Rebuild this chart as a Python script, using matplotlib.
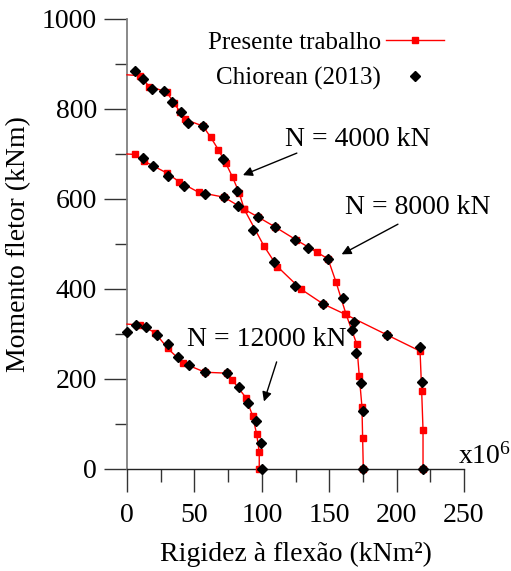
import matplotlib
matplotlib.use("Agg")
import matplotlib.pyplot as plt
from matplotlib.lines import Line2D

plt.rcParams['font.family'] = ['Liberation Serif', 'DejaVu Serif']
plt.rcParams['mathtext.fontset'] = 'custom'
plt.rcParams['mathtext.rm'] = 'Liberation Serif'
plt.rcParams['mathtext.it'] = 'Liberation Serif:italic'

# ---- data: Presente trabalho (red) ----
n4000_x = [0, 9.6, 16.5, 29.4, 34.9, 39.3, 43.0, 56.4, 62.1, 67.7, 73.4, 78.4, 83.3, 87.0,
           101.5, 111.5, 128.9, 145.4, 161.7, 192.9, 217.4, 218.6, 219.6, 219.6]
n4000_y = [876, 874, 850, 838, 813, 794, 777, 762, 737, 710, 679, 648, 613, 577,
           496, 450, 400, 367, 344, 298, 262, 173, 87, 0]

n8000_x = [0, 5.9, 12.8, 29.4, 38.9, 53.1, 72.0, 87.1, 97.2, 109.8, 125.0, 140.7, 149.1,
           155.0, 162.5, 170.4, 172.3, 174.3, 174.8, 175.3]
n8000_y = [700, 699, 684, 658, 638, 615, 604, 577, 560, 538, 510, 482, 467,
           416, 344, 278, 207, 138, 69, 0]

n12000_x = [0, 10.0, 20.8, 30.2, 41.8, 57.9, 74.0, 78.1, 88.3, 93.2, 96.2, 98.1, 98.1]
n12000_y = [322, 320, 303, 268, 235, 215, 213, 198, 158, 118, 77, 38, 0]

# ---- data: Chiorean (2013) (black diamonds) ----
c4000_x = [5.9, 11.9, 18.5, 27.4, 33.4, 40.0, 45.2, 56.4, 71.2, 81.6, 93.5, 109.0, 124.6,
           145.4, 168.4, 192.9, 217.4, 218.6, 219.6]
c4000_y = [884, 867, 844, 840, 816, 793, 769, 762, 689, 618, 531, 460, 407,
           367, 327, 298, 271, 193, 0]

c8000_x = [11.9, 19.3, 30.4, 42.3, 57.9, 72.0, 82.3, 97.2, 109.8, 124.6, 134.3, 149.1,
           160.2, 166.7, 169.7, 173.4, 175.3, 175.3]
c8000_y = [691, 673, 651, 629, 611, 604, 584, 560, 538, 509, 491, 467,
           380, 309, 258, 191, 129, 0]

c12000_x = [0, 6.7, 13.9, 22.5, 30.2, 38.1, 46.2, 57.9, 74.0, 83.1, 89.5, 95.5, 99.4, 100.4]
c12000_y = [304, 320, 316, 298, 277, 250, 231, 215, 213, 183, 147, 107, 58, 0]

x_ticks = [0, 50, 100, 150, 200, 250]
y_ticks = [0, 200, 400, 600, 800, 1000]

fig = plt.figure(figsize=(5.11, 5.71), dpi=100)
ax = fig.add_axes([127/511, 1-469/571, (464-127)/511, (469-19)/571])

red_kw = dict(color='#ff0000', lw=1.0, marker='s', ms=4.6, mec='#ff0000', mfc='#ff0000',
              clip_on=False, zorder=3)
blk_kw = dict(ls='none', marker='D', ms=5.0, color='black', clip_on=False, zorder=4)

for xs, ys in [(n4000_x, n4000_y), (n8000_x, n8000_y), (n12000_x, n12000_y)]:
    ax.plot(xs, ys, markevery=list(range(1, len(xs))), **red_kw)
for xs, ys in [(c4000_x, c4000_y), (c8000_x, c8000_y), (c12000_x, c12000_y)]:
    ax.plot(xs, ys, **blk_kw)

ax.set_xlim(0, 250)
ax.set_ylim(0, 1000)
ax.set_xticks(x_ticks)
ax.set_yticks(y_ticks)
ax.set_xticks([25, 75, 125, 175, 225], minor=True)
ax.set_yticks([100, 300, 500, 700, 900], minor=True)
ax.set_xticklabels([str(v) for v in x_ticks])
ax.set_yticklabels([str(v) for v in y_ticks])

for s in ['top', 'right']:
    ax.spines[s].set_visible(False)
ax.spines['left'].set_color('#808080')
ax.spines['left'].set_linewidth(1.3)
ax.spines['bottom'].set_color('#222222')
ax.spines['bottom'].set_linewidth(1.0)

ax.tick_params(axis='both', which='major', direction='out', length=16.5, width=1.0,
               color='#333333', labelsize=20)
ax.tick_params(axis='both', which='minor', direction='out', length=9, width=1.0, color='#333333')
ax.tick_params(axis='x', which='major', pad=8)
ax.tick_params(axis='y', which='major', pad=5)

ax.set_xlabel('Rigidez à flexão (kNm²)', fontsize=20, labelpad=10)
ax.set_ylabel('Momento fletor (kNm)', fontsize=20, labelpad=8)

ax.text(245.4, 13, 'x10$^6$', fontsize=20, va='baseline', ha='left', clip_on=False)

arrow = dict(arrowstyle='-|>', color='black', lw=1.0, mutation_scale=14, shrinkA=0, shrinkB=0)
ax.annotate('', xy=(86, 653), xytext=(126, 702), arrowprops=arrow)
ax.text(171, 733, 'N = 4000 kN', fontsize=20, ha='center', va='center')
ax.annotate('', xy=(159.2, 477), xytext=(201, 544), arrowprops=arrow)
ax.text(216, 580, 'N = 8000 kN', fontsize=20, ha='center', va='center')
ax.annotate('', xy=(101.6, 150), xytext=(111, 238), arrowprops=arrow)
ax.text(104, 287, 'N = 12000 kN', fontsize=20, ha='center', va='center')

handles = [Line2D([], [], color='#ff0000', lw=1.0, marker='s', ms=4.6),
           Line2D([], [], ls='none', marker='D', ms=5.0, color='black')]
ax.legend(handles, ['Presente trabalho', 'Chiorean (2013)'], loc='upper right',
          bbox_to_anchor=(0.94, 0.972), frameon=False, markerfirst=False, fontsize=18,
          handlelength=2.3, handletextpad=0.2, labelspacing=0.5, borderpad=0, borderaxespad=0)

fig.savefig('out.png', dpi=100)
